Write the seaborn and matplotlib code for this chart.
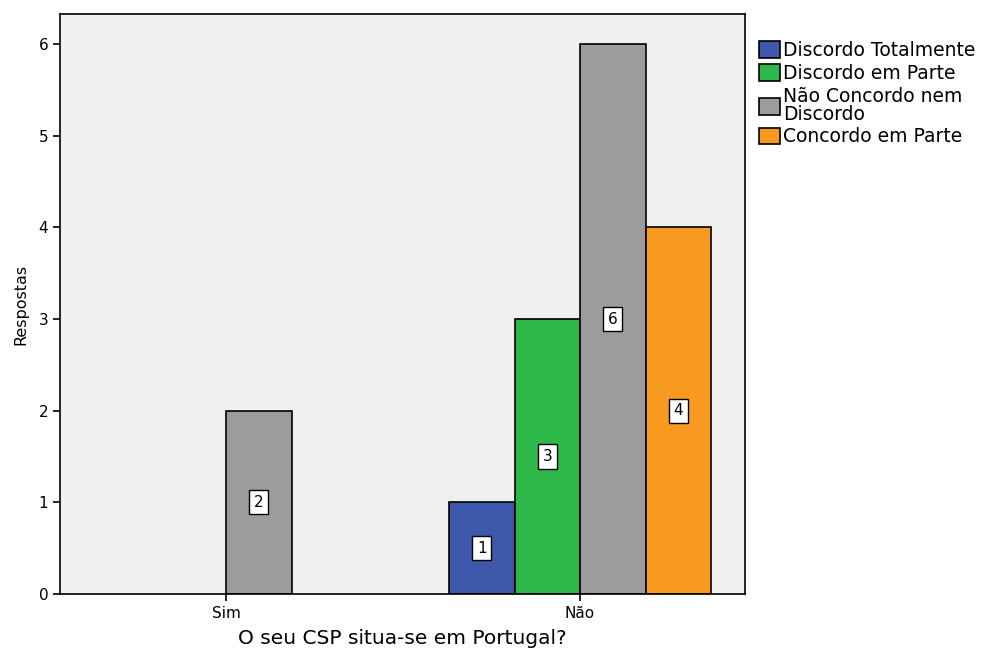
import matplotlib
matplotlib.use("Agg")
import matplotlib.pyplot as plt
import seaborn as sns
import pandas as pd
import numpy as np
from matplotlib.patches import Patch

categories = ["Sim", "Não"]
series = ["Discordo Totalmente", "Discordo em Parte", "Não Concordo nem Discordo", "Concordo em Parte"]
legend_labels = ["Discordo Totalmente", "Discordo em Parte", "Não Concordo nem\nDiscordo", "Concordo em Parte"]
sim_values = [np.nan, np.nan, 2, np.nan]
nao_values = [1, 3, 6, 4]
colors = ["#3E58AC", "#2EB84A", "#9C9C9C", "#F89A20"]

rows = []
for cat, vals in zip(categories, [sim_values, nao_values]):
    for s, v in zip(series, vals):
        rows.append({"cat": cat, "serie": s, "val": v})
df = pd.DataFrame(rows).dropna()

sns.set_theme(style="white")
plt.rcParams["font.family"] = ["DejaVu Sans"]
plt.rcParams["text.color"] = "black"
plt.rcParams["axes.labelcolor"] = "black"

fig = plt.figure(figsize=(9.82, 6.5), dpi=100)
ax = fig.add_axes([60/982, 56/650, 685/982, 580/650])
ax.set_facecolor("#F0F0F0")

sns.barplot(data=df, x="cat", y="val", hue="serie", order=categories, hue_order=series,
            palette=colors, width=0.74, edgecolor="black", linewidth=1.2, saturation=1,
            ax=ax, legend=False, errorbar=None)

for cont in ax.containers:
    ax.bar_label(cont, label_type="center", fontsize=11, color="black",
                 bbox=dict(boxstyle="square,pad=0.3", facecolor="white", edgecolor="black", linewidth=1))

ax.set_xlim(-0.469, 1.466)
ax.set_ylim(0, 6.33)
ax.set_yticks(range(0, 7))
ax.set_xlabel("O seu CSP situa-se em Portugal?", fontsize=14.5, labelpad=6)
ax.set_ylabel("Respostas", fontsize=11.5, labelpad=7)
ax.tick_params(axis="both", which="both", direction="out", length=5, width=1.2, colors="black",
               labelsize=11, left=True, bottom=True)
for sp in ax.spines.values():
    sp.set_color("black")
    sp.set_linewidth(1.2)

handles = [Patch(facecolor=c, edgecolor="black", linewidth=1.2) for c in colors]
leg = fig.legend(handles, legend_labels, loc="upper left", bbox_to_anchor=(759/982, 1 - 41/650),
                 frameon=False, fontsize=13.5, handlelength=1.1, handleheight=1.0, handletextpad=0.2,
                 labelspacing=0.2, borderaxespad=0, borderpad=0)
for t in leg.get_texts():
    t.set_linespacing(0.95)

fig.savefig("out.png", dpi=100)
